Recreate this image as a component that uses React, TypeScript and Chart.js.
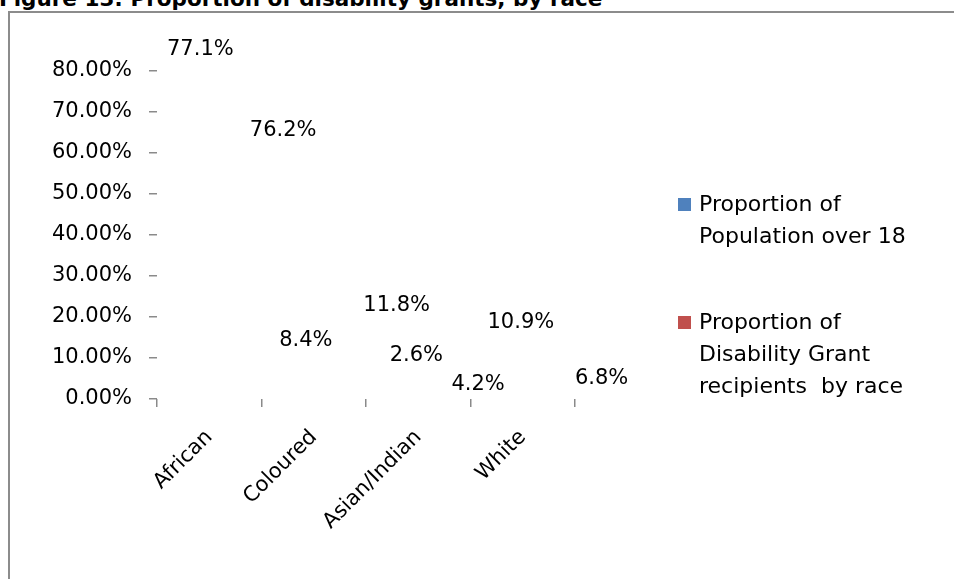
import React, { useEffect, useRef } from "react";
import { Chart, registerables } from "chart.js";

Chart.register(...registerables);

const titleText = "Figure 13: Proportion of disability grants, by race";
const categories = ["African", "Coloured", "Asian/Indian", "White"];
const populationOver18 = [0.771, 0.084, 0.026, 0.109];
const disabilityGrantRecipients = [0.762, 0.118, 0.042, 0.068];
const seriesNames = [
  ["Proportion of", "Population over 18"],
  ["Proportion of", "Disability Grant", "recipients  by race"],
];
const seriesColors = ["#4F81BD", "#C0504D"];
const yMax = 0.8;
const yStep = 0.1;

// manual nudges of the data labels (pixels), as placed in the source chart
const labelNudges = [
  [[12, -33], [13, -24], [19, -33], [19, -32]],
  [[53, 44], [62, -45], [39, 3], [58, 7]],
];

const FONT = "'DejaVu Sans', sans-serif";

const App: React.FC = () => {
  const canvasRef = useRef<HTMLCanvasElement | null>(null);

  useEffect(() => {
    if (!canvasRef.current) return;

    const labelPlugin = {
      id: "valueLabels",
      afterDatasetsDraw(chart: any) {
        const ctx = chart.ctx;
        const yScale = chart.scales.y;
        ctx.save();
        ctx.font = `21px ${FONT}`;
        ctx.fillStyle = "#000";
        ctx.textAlign = "center";
        ctx.textBaseline = "middle";
        chart.data.datasets.forEach((ds: any, di: number) => {
          const meta = chart.getDatasetMeta(di);
          meta.data.forEach((el: any, i: number) => {
            const v = ds.data[i];
            const [dx, dy] = labelNudges[di][i];
            const x = el.x + dx;
            const y = yScale.getPixelForValue(v) + dy;
            ctx.fillText((v * 100).toFixed(1) + "%", x, y);
          });
        });
        ctx.restore();
      },
    };

    const legendPlugin = {
      id: "sideLegend",
      afterDraw(chart: any) {
        const ctx = chart.ctx;
        const area = chart.chartArea;
        const boxX = area.right + 103;
        const textX = boxX + 21;
        const lineH = 32;
        const firstLine = area.top + 134;
        const itemGap = 54;
        ctx.save();
        ctx.font = `22px ${FONT}`;
        ctx.textAlign = "left";
        ctx.textBaseline = "middle";
        let y = firstLine;
        seriesNames.forEach((lines, i) => {
          ctx.fillStyle = seriesColors[i];
          ctx.fillRect(boxX, y - 7, 13, 13);
          ctx.fillStyle = "#000";
          lines.forEach((ln, k) => {
            ctx.fillText(ln, textX, y + k * lineH);
          });
          y += lines.length * lineH + itemGap;
        });
        ctx.restore();
      },
    };

    const chart = new Chart(canvasRef.current, {
      type: "bar",
      data: {
        labels: categories,
        datasets: [
          {
            label: seriesNames[0].join(" "),
            data: populationOver18,
            backgroundColor: "rgba(0,0,0,0)",
          },
          {
            label: seriesNames[1].join(" "),
            data: disabilityGrantRecipients,
            backgroundColor: "rgba(0,0,0,0)",
          },
        ],
      },
      options: {
        responsive: false,
        animation: false,
        layout: { padding: { top: 71, right: 379, bottom: 0, left: 0 } },
        plugins: {
          legend: { display: false },
          tooltip: { enabled: false },
          title: { display: false },
        },
        scales: {
          x: {
            border: { display: false },
            grid: {
              display: true,
              drawOnChartArea: false,
              drawTicks: true,
              tickLength: 8,
              color: "#8a8a8a",
              lineWidth: 1.5,
              offset: true,
            },
            ticks: {
              color: "#000",
              font: { family: FONT, size: 21 },
              maxRotation: 45,
              minRotation: 45,
              padding: 18,
              autoSkip: false,
            },
            afterFit(scale: any) {
              scale.height = 180;
            },
          },
          y: {
            min: 0,
            max: yMax,
            border: { display: false },
            grid: {
              display: true,
              drawOnChartArea: false,
              drawTicks: true,
              tickLength: 8,
              color: "#8a8a8a",
              lineWidth: 1.5,
            },
            ticks: {
              stepSize: yStep,
              color: "#000",
              font: { family: FONT, size: 21 },
              padding: 17,
              callback: (v: any) => (Number(v) * 100).toFixed(2) + "%",
            },
            afterFit(scale: any) {
              scale.width = 157;
            },
          },
        },
      },
      plugins: [labelPlugin, legendPlugin],
    });

    return () => chart.destroy();
  }, []);

  return (
    <div
      style={{
        position: "fixed",
        left: 0,
        top: 0,
        width: 954,
        height: 579,
        overflow: "hidden",
        background: "#fff",
      }}
    >
      <div
        style={{
          position: "absolute",
          left: 8,
          top: 11,
          width: 1200,
          height: 1200,
          border: "2px solid #8c8c8c",
          boxSizing: "border-box",
        }}
      />
      <div
        style={{
          position: "absolute",
          left: -1,
          top: -12,
          fontFamily: FONT,
          fontWeight: "bold",
          fontSize: 21.5,
          lineHeight: "21px",
          whiteSpace: "nowrap",
          color: "#000",
        }}
      >
        {titleText}
      </div>
      <canvas
        ref={canvasRef}
        width={954}
        height={579}
        style={{ position: "absolute", left: 0, top: 0, width: 954, height: 579 }}
      />
    </div>
  );
};

export default App;
